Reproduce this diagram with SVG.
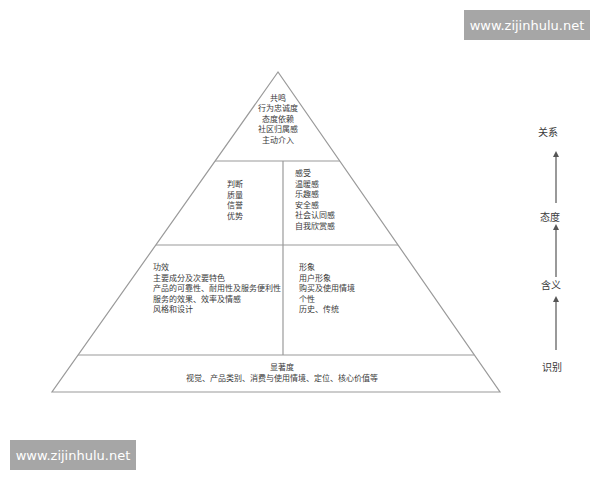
<svg xmlns="http://www.w3.org/2000/svg" width="600" height="480" viewBox="0 0 600 480">
<defs>
<style>
.ln{stroke:#9a9a9a;stroke-width:1.2;fill:none}
.t{font-family:"Liberation Sans","Noto Sans CJK SC",sans-serif;font-size:8px;fill:#3a3a3a}
.s{font-family:"Liberation Sans","Noto Sans CJK SC",sans-serif;font-size:10px;fill:#3a3a3a}
.wm{font-family:"DejaVu Sans",sans-serif;font-size:13px;fill:#fff}
.ar{stroke:#555;stroke-width:1.2;fill:none}
</style>
<marker id="ah" markerWidth="6" markerHeight="6" refX="3" refY="3" orient="auto" markerUnits="userSpaceOnUse">
<path d="M0,0 L6,3 L0,6 z" fill="#555"/>
</marker>
</defs>
<rect width="600" height="480" fill="#fff"/>
<g id="pyramid">
<path class="ln" d="M278,72 L52,392 L500,392 Z"/>
<line class="ln" x1="215" y1="161" x2="340" y2="161"/>
<line class="ln" x1="156" y1="245" x2="398" y2="245"/>
<line class="ln" x1="78" y1="355" x2="474" y2="355"/>
<line class="ln" x1="283" y1="161" x2="283" y2="355"/>
</g>
<g id="top">
<text class="t" text-anchor="middle" x="278" y="100.5">共鸣</text>
<text class="t" text-anchor="middle" x="278" y="111">行为忠诚度</text>
<text class="t" text-anchor="middle" x="278" y="121.5">态度依赖</text>
<text class="t" text-anchor="middle" x="278" y="132">社区归属感</text>
<text class="t" text-anchor="middle" x="278" y="142.5">主动介入</text>
</g>
<g id="judge">
<text class="t" x="227" y="187">判断</text>
<text class="t" x="227" y="197.5">质量</text>
<text class="t" x="227" y="208">信誉</text>
<text class="t" x="227" y="218.5">优势</text>
</g>
<g id="feel">
<text class="t" x="295" y="176">感受</text>
<text class="t" x="295" y="186.5">温暖感</text>
<text class="t" x="295" y="197">乐趣感</text>
<text class="t" x="295" y="207.5">安全感</text>
<text class="t" x="295" y="218">社会认同感</text>
<text class="t" x="295" y="228.5">自我欣赏感</text>
</g>
<g id="perf">
<text class="t" x="153" y="270">功效</text>
<text class="t" x="153" y="280.5">主要成分及次要特色</text>
<text class="t" x="153" y="291">产品的可靠性、耐用性及服务便利性</text>
<text class="t" x="153" y="301.5">服务的效果、效率及情感</text>
<text class="t" x="153" y="312">风格和设计</text>
</g>
<g id="image">
<text class="t" x="299" y="270">形象</text>
<text class="t" x="299" y="280.5">用户形象</text>
<text class="t" x="299" y="291">购买及使用情境</text>
<text class="t" x="299" y="301.5">个性</text>
<text class="t" x="299" y="312">历史、传统</text>
</g>
<g id="salience">
<text class="t" text-anchor="middle" x="282" y="370">显著度</text>
<text class="t" text-anchor="middle" x="282" y="381">视觉、产品类别、消费与使用情境、定位、核心价值等</text>
</g>
<g id="levels">
<text class="s" text-anchor="middle" x="548" y="136">关系</text>
<text class="s" text-anchor="middle" x="550" y="221">态度</text>
<text class="s" text-anchor="middle" x="551" y="289">含义</text>
<text class="s" text-anchor="middle" x="552" y="371">识别</text>
</g>
<g id="connectors">
<line class="ar" x1="556" y1="203" x2="556" y2="154" marker-end="url(#ah)"/>
<line class="ar" x1="556" y1="277" x2="556" y2="227" marker-end="url(#ah)"/>
<line class="ar" x1="556" y1="350" x2="556" y2="299" marker-end="url(#ah)"/>
</g>
<g id="watermarks">
<rect x="464" y="10" width="126" height="30" fill="#a6a6a6"/>
<text class="wm" text-anchor="middle" x="527" y="30">www.zijinhulu.net</text>
<rect x="10" y="440" width="126" height="30" fill="#a6a6a6"/>
<text class="wm" text-anchor="middle" x="73" y="460">www.zijinhulu.net</text>
</g>
</svg>
